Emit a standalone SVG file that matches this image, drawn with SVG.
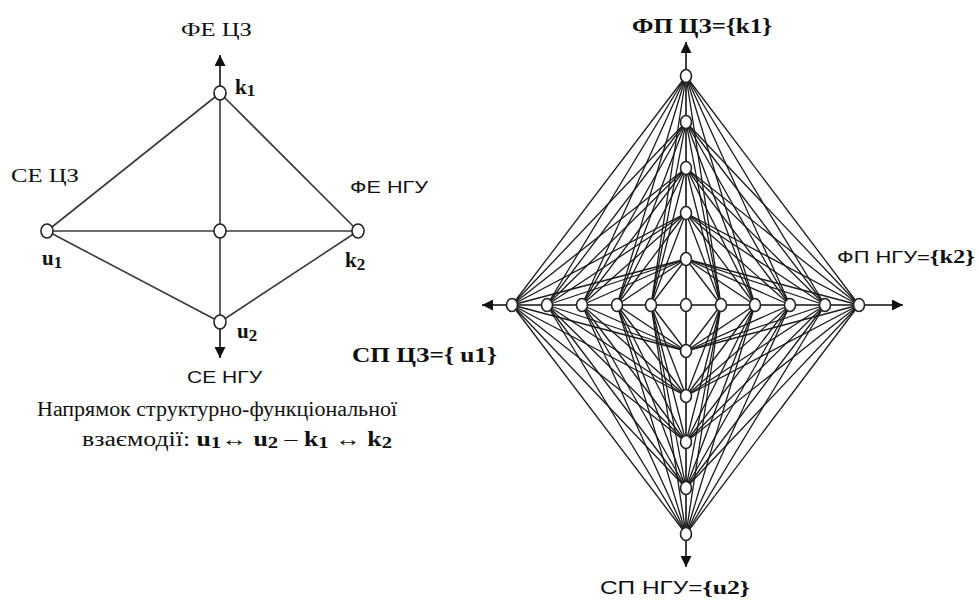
<svg xmlns="http://www.w3.org/2000/svg" width="979" height="603" viewBox="0 0 979 603">
<style>
.bg{fill:#fff}
.e1{stroke:#3a3a3a;stroke-width:1.6;fill:none}
.e2{stroke:#1a1a1a;stroke-width:1.3;fill:none}
.ax{stroke:#111;stroke-width:1.6;fill:none}
.n{fill:#fff;stroke:#222;stroke-width:1.6}
.serif{font-family:"Liberation Serif","Times New Roman",serif;fill:#111}
.sans{font-family:"Liberation Sans",Arial,sans-serif;fill:#111}
.b{font-weight:bold}
</style>
<defs>
<marker id="arr" viewBox="0 0 10 10" refX="10" refY="5" markerWidth="11" markerHeight="11" markerUnits="userSpaceOnUse" orient="auto">
<path d="M0,0 L10,5 L0,10 z" fill="#111"/>
</marker>
</defs>
<rect class="bg" x="0" y="0" width="979" height="603"/>

<g id="connectors">
<g id="left-edges" class="e1">
<line x1="220" y1="93" x2="47" y2="231"/>
<line x1="220" y1="93" x2="358" y2="231"/>
<line x1="47" y1="231" x2="220" y2="322"/>
<line x1="358" y1="231" x2="220" y2="322"/>
<line x1="47" y1="231" x2="358" y2="231"/>
<line x1="220" y1="93" x2="220" y2="322"/>
</g>
<g id="left-axes" class="ax">
<line x1="220" y1="93" x2="220" y2="55" marker-end="url(#arr)"/>
<line x1="220" y1="322" x2="220" y2="358" marker-end="url(#arr)"/>
</g>
<g id="right-axes" class="ax">
<line x1="686" y1="76" x2="686" y2="534"/>
<line x1="512" y1="305" x2="859" y2="305"/>
<line x1="686" y1="76" x2="686" y2="42" marker-end="url(#arr)"/>
<line x1="686" y1="534" x2="686" y2="567" marker-end="url(#arr)"/>
<line x1="512" y1="305" x2="482" y2="305" marker-end="url(#arr)"/>
<line x1="859" y1="305" x2="903" y2="305" marker-end="url(#arr)"/>
</g>
<g id="right-edges" class="e2">
<line x1="686" y1="76" x2="512" y2="305"/><line x1="686" y1="76" x2="547" y2="305"/><line x1="686" y1="76" x2="582" y2="305"/><line x1="686" y1="76" x2="617" y2="305"/><line x1="686" y1="76" x2="651" y2="305"/><line x1="686" y1="76" x2="721" y2="305"/><line x1="686" y1="76" x2="755" y2="305"/><line x1="686" y1="76" x2="790" y2="305"/><line x1="686" y1="76" x2="825" y2="305"/><line x1="686" y1="76" x2="859" y2="305"/>
<line x1="686" y1="122" x2="512" y2="305"/><line x1="686" y1="122" x2="547" y2="305"/><line x1="686" y1="122" x2="582" y2="305"/><line x1="686" y1="122" x2="617" y2="305"/><line x1="686" y1="122" x2="651" y2="305"/><line x1="686" y1="122" x2="721" y2="305"/><line x1="686" y1="122" x2="755" y2="305"/><line x1="686" y1="122" x2="790" y2="305"/><line x1="686" y1="122" x2="825" y2="305"/><line x1="686" y1="122" x2="859" y2="305"/>
<line x1="686" y1="168" x2="512" y2="305"/><line x1="686" y1="168" x2="547" y2="305"/><line x1="686" y1="168" x2="582" y2="305"/><line x1="686" y1="168" x2="617" y2="305"/><line x1="686" y1="168" x2="651" y2="305"/><line x1="686" y1="168" x2="721" y2="305"/><line x1="686" y1="168" x2="755" y2="305"/><line x1="686" y1="168" x2="790" y2="305"/><line x1="686" y1="168" x2="825" y2="305"/><line x1="686" y1="168" x2="859" y2="305"/>
<line x1="686" y1="213" x2="512" y2="305"/><line x1="686" y1="213" x2="547" y2="305"/><line x1="686" y1="213" x2="582" y2="305"/><line x1="686" y1="213" x2="617" y2="305"/><line x1="686" y1="213" x2="651" y2="305"/><line x1="686" y1="213" x2="721" y2="305"/><line x1="686" y1="213" x2="755" y2="305"/><line x1="686" y1="213" x2="790" y2="305"/><line x1="686" y1="213" x2="825" y2="305"/><line x1="686" y1="213" x2="859" y2="305"/>
<line x1="686" y1="259" x2="512" y2="305"/><line x1="686" y1="259" x2="547" y2="305"/><line x1="686" y1="259" x2="582" y2="305"/><line x1="686" y1="259" x2="617" y2="305"/><line x1="686" y1="259" x2="651" y2="305"/><line x1="686" y1="259" x2="721" y2="305"/><line x1="686" y1="259" x2="755" y2="305"/><line x1="686" y1="259" x2="790" y2="305"/><line x1="686" y1="259" x2="825" y2="305"/><line x1="686" y1="259" x2="859" y2="305"/>
<line x1="686" y1="351" x2="512" y2="305"/><line x1="686" y1="351" x2="547" y2="305"/><line x1="686" y1="351" x2="582" y2="305"/><line x1="686" y1="351" x2="617" y2="305"/><line x1="686" y1="351" x2="651" y2="305"/><line x1="686" y1="351" x2="721" y2="305"/><line x1="686" y1="351" x2="755" y2="305"/><line x1="686" y1="351" x2="790" y2="305"/><line x1="686" y1="351" x2="825" y2="305"/><line x1="686" y1="351" x2="859" y2="305"/>
<line x1="686" y1="396" x2="512" y2="305"/><line x1="686" y1="396" x2="547" y2="305"/><line x1="686" y1="396" x2="582" y2="305"/><line x1="686" y1="396" x2="617" y2="305"/><line x1="686" y1="396" x2="651" y2="305"/><line x1="686" y1="396" x2="721" y2="305"/><line x1="686" y1="396" x2="755" y2="305"/><line x1="686" y1="396" x2="790" y2="305"/><line x1="686" y1="396" x2="825" y2="305"/><line x1="686" y1="396" x2="859" y2="305"/>
<line x1="686" y1="442" x2="512" y2="305"/><line x1="686" y1="442" x2="547" y2="305"/><line x1="686" y1="442" x2="582" y2="305"/><line x1="686" y1="442" x2="617" y2="305"/><line x1="686" y1="442" x2="651" y2="305"/><line x1="686" y1="442" x2="721" y2="305"/><line x1="686" y1="442" x2="755" y2="305"/><line x1="686" y1="442" x2="790" y2="305"/><line x1="686" y1="442" x2="825" y2="305"/><line x1="686" y1="442" x2="859" y2="305"/>
<line x1="686" y1="488" x2="512" y2="305"/><line x1="686" y1="488" x2="547" y2="305"/><line x1="686" y1="488" x2="582" y2="305"/><line x1="686" y1="488" x2="617" y2="305"/><line x1="686" y1="488" x2="651" y2="305"/><line x1="686" y1="488" x2="721" y2="305"/><line x1="686" y1="488" x2="755" y2="305"/><line x1="686" y1="488" x2="790" y2="305"/><line x1="686" y1="488" x2="825" y2="305"/><line x1="686" y1="488" x2="859" y2="305"/>
<line x1="686" y1="534" x2="512" y2="305"/><line x1="686" y1="534" x2="547" y2="305"/><line x1="686" y1="534" x2="582" y2="305"/><line x1="686" y1="534" x2="617" y2="305"/><line x1="686" y1="534" x2="651" y2="305"/><line x1="686" y1="534" x2="721" y2="305"/><line x1="686" y1="534" x2="755" y2="305"/><line x1="686" y1="534" x2="790" y2="305"/><line x1="686" y1="534" x2="825" y2="305"/><line x1="686" y1="534" x2="859" y2="305"/>
</g>
</g>

<g id="left-nodes">
<g id="node-k1"><ellipse class="n" cx="220" cy="93" rx="6" ry="7"/><text class="serif b" x="235" y="94" font-size="21">k<tspan font-size="17" dy="2">1</tspan></text></g>
<g id="node-u1"><ellipse class="n" cx="47" cy="231" rx="6" ry="7"/><text class="serif b" x="42" y="265" font-size="21">u<tspan font-size="17" dy="3">1</tspan></text></g>
<g id="node-c"><ellipse class="n" cx="220" cy="231" rx="6" ry="7"/></g>
<g id="node-k2"><ellipse class="n" cx="358" cy="231" rx="6" ry="7"/><text class="serif b" x="345" y="267" font-size="21">k<tspan font-size="17" dy="3">2</tspan></text></g>
<g id="node-u2"><ellipse class="n" cx="220" cy="322" rx="6" ry="7"/><text class="serif b" x="237" y="338" font-size="21">u<tspan font-size="17" dy="3">2</tspan></text></g>
</g>

<g id="left-labels">
<text id="lbl-fe-cz" class="serif" x="181" y="36" font-size="18" textLength="71" lengthAdjust="spacingAndGlyphs">ФЕ ЦЗ</text>
<text id="lbl-se-cz" class="serif" x="11" y="182" font-size="18" textLength="68" lengthAdjust="spacingAndGlyphs">СЕ ЦЗ</text>
<text id="lbl-fe-ngu" class="sans" x="350" y="193" font-size="17" textLength="78" lengthAdjust="spacingAndGlyphs">ФЕ НГУ</text>
<text id="lbl-se-ngu" class="sans" x="187" y="383" font-size="17" textLength="75" lengthAdjust="spacingAndGlyphs">СЕ НГУ</text>
<text id="caption1" class="serif" x="37" y="416" font-size="20" textLength="360" lengthAdjust="spacingAndGlyphs">Напрямок структурно-функціональної</text>
<text id="caption2" class="serif" x="82" y="446" font-size="20" textLength="310" lengthAdjust="spacingAndGlyphs">взаємодії: <tspan class="b">u<tspan font-size="16" dy="2">1</tspan></tspan><tspan dy="-2">↔ </tspan><tspan class="b">u<tspan font-size="16" dy="2">2</tspan></tspan><tspan dy="-2"> – </tspan><tspan class="b">k<tspan font-size="16" dy="2">1</tspan></tspan><tspan dy="-2"> ↔ </tspan><tspan class="b">k<tspan font-size="16" dy="2">2</tspan></tspan></text>
</g>

<g id="right-nodes">
<g id="v1"><ellipse class="n" cx="686" cy="76" rx="5.5" ry="6.5"/></g>
<g id="v2"><ellipse class="n" cx="686" cy="122" rx="5.5" ry="6.5"/></g>
<g id="v3"><ellipse class="n" cx="686" cy="168" rx="5.5" ry="6.5"/></g>
<g id="v4"><ellipse class="n" cx="686" cy="213" rx="5.5" ry="6.5"/></g>
<g id="v5"><ellipse class="n" cx="686" cy="259" rx="5.5" ry="6.5"/></g>
<g id="center"><ellipse class="n" cx="686" cy="305" rx="5.5" ry="6.5"/></g>
<g id="v6"><ellipse class="n" cx="686" cy="351" rx="5.5" ry="6.5"/></g>
<g id="v7"><ellipse class="n" cx="686" cy="396" rx="5.5" ry="6.5"/></g>
<g id="v8"><ellipse class="n" cx="686" cy="442" rx="5.5" ry="6.5"/></g>
<g id="v9"><ellipse class="n" cx="686" cy="488" rx="5.5" ry="6.5"/></g>
<g id="v10"><ellipse class="n" cx="686" cy="534" rx="5.5" ry="6.5"/></g>
<g id="h1"><ellipse class="n" cx="512" cy="305" rx="5.5" ry="6.5"/></g>
<g id="h2"><ellipse class="n" cx="547" cy="305" rx="5.5" ry="6.5"/></g>
<g id="h3"><ellipse class="n" cx="582" cy="305" rx="5.5" ry="6.5"/></g>
<g id="h4"><ellipse class="n" cx="617" cy="305" rx="5.5" ry="6.5"/></g>
<g id="h5"><ellipse class="n" cx="651" cy="305" rx="5.5" ry="6.5"/></g>
<g id="h6"><ellipse class="n" cx="721" cy="305" rx="5.5" ry="6.5"/></g>
<g id="h7"><ellipse class="n" cx="755" cy="305" rx="5.5" ry="6.5"/></g>
<g id="h8"><ellipse class="n" cx="790" cy="305" rx="5.5" ry="6.5"/></g>
<g id="h9"><ellipse class="n" cx="825" cy="305" rx="5.5" ry="6.5"/></g>
<g id="h10"><ellipse class="n" cx="859" cy="305" rx="5.5" ry="6.5"/></g>
</g>

<g id="right-labels">
<text id="lbl-fp-cz" class="serif b" x="632" y="33" font-size="20" textLength="140" lengthAdjust="spacingAndGlyphs">ФП ЦЗ={k1}</text>
<text id="lbl-fp-ngu" x="837" y="263" textLength="138" lengthAdjust="spacingAndGlyphs"><tspan class="sans" font-size="17">ФП НГУ=</tspan><tspan class="serif b" font-size="19">{k2}</tspan></text>
<text id="lbl-sp-cz" class="serif b" x="352" y="362" font-size="20" textLength="145" lengthAdjust="spacingAndGlyphs">СП ЦЗ={ u1}</text>
<text id="lbl-sp-ngu" x="600" y="594" textLength="150" lengthAdjust="spacingAndGlyphs"><tspan class="sans" font-size="18">СП НГУ=</tspan><tspan class="serif b" font-size="19">{u2}</tspan></text>
</g>
</svg>
